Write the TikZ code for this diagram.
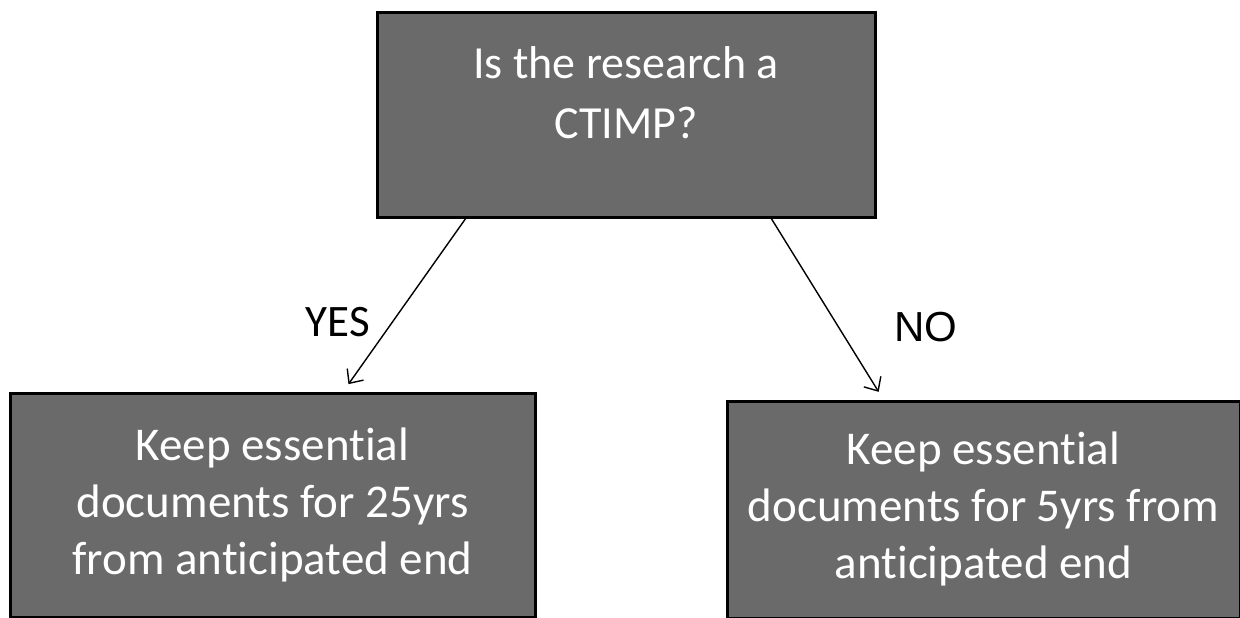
\documentclass[tikz,border=0pt]{standalone}
\usepackage{fontspec}
\setmainfont{Carlito}[Ligatures={NoCommon}]
\newfontfamily\arialfont{Liberation Sans}
\usetikzlibrary{arrows.meta,calc}
\definecolor{boxgray}{HTML}{6A6A6A}
\tikzset{
  box/.style={draw=black, line width=3pt, fill=boxgray, inner sep=0pt},
  boxtext/.style={text=white, align=center, inner sep=0pt, font=\fontsize{46}{60}\selectfont},
  conn/.style={draw=black, line width=1.4pt, -{Straight Barb[length=11pt,width=20pt,line width=1.4pt]}},
  lbl/.style={inner sep=0pt, font=\fontsize{45}{50}\selectfont}
}
\begin{document}
\begin{tikzpicture}[x=1pt,y=-1pt]
\useasboundingbox (0,0) rectangle (1240,618);
\node[box, minimum width=498pt, minimum height=204pt] (top) at (626,115) {};
\node[box, minimum width=525pt, minimum height=224pt] (left) at (272.5,505) {};
\node[box, minimum width=513pt, minimum height=217pt] (right) at (983.5,509.5) {};
\node[boxtext] (toptext) at (626,93) {Is the research a\\CTIMP?};
\node[boxtext, font=\fontsize{47}{57}\selectfont] (lefttext) at (272.5,505) {Keep essential\\documents for 25yrs\\from anticipated end};
\node[boxtext, font=\fontsize{47}{57}\selectfont] (righttext) at (983.5,509) {Keep essential\\documents for 5yrs from\\anticipated end};
\coordinate (ya) at ($(top.south west)!0.18!(top.south east)$);
\coordinate (yb) at ($(left.north west)!0.634!(left.north east)$);
\coordinate (na) at ($(top.south west)!0.79!(top.south east)$);
\coordinate (nb) at ($(right.north west)!0.306!(right.north east)$);
\draw[conn, shorten >=9pt] (ya) -- (yb);
\draw[conn, shorten >=9pt] (na) -- (nb);
\node[lbl] (yes) at (338,322) {YES};
\node[lbl, font=\arialfont\fontsize{42}{50}\selectfont] (no) at (926,327) {NO};
\end{tikzpicture}
\end{document}
